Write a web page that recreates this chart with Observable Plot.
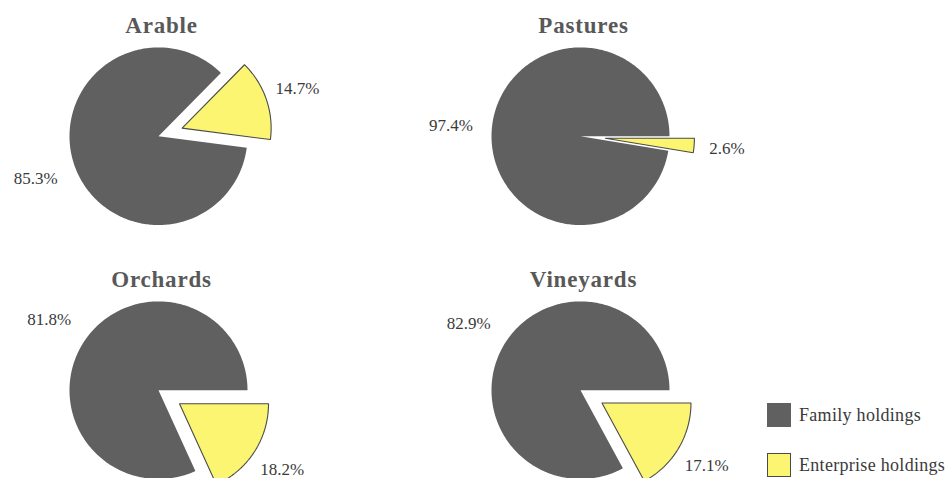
<!DOCTYPE html>
<html>
<head>
<meta charset="utf-8">
<script src="https://cdn.jsdelivr.net/npm/d3@7"></script>
<script src="https://cdn.jsdelivr.net/npm/@observablehq/plot@0.6"></script>
<style>
  html, body { margin: 0; padding: 0; background: #fff; overflow: hidden; }
  #chart { position: relative; width: 950px; height: 478px; overflow: hidden; }
  #chart svg { display: block; }
  .key { position: absolute; left: 767px; height: 24px; display: flex; align-items: center;
         font-family: "Liberation Serif", "Times New Roman", serif; font-size: 18px;
         line-height: 24px; color: #3a3a3a; white-space: nowrap; letter-spacing: 0.3px; }
  .key .sw { width: 24px; height: 24px; box-sizing: border-box; margin-right: 8px; flex: none; }
</style>
</head>
<body>
<div id="chart"></div>
<script>
// Share of land by type of holding, per land use (percent)
const categories = ["Arable", "Pastures", "Orchards", "Vineyards"];
const holdings = ["Family holdings", "Enterprise holdings"];
const familyShare = [85.3, 97.4, 81.8, 82.9];
const enterpriseShare = [14.7, 2.6, 18.2, 17.1];

// Styling and layout
const colors = ["#606060", "#fbf572"];
const outline = "#4a4a4a";
const enterpriseStartDeg = [44.5, 90, 90, 90]; // clockwise from 12 o'clock
const R = 89;            // pie radius (px)
const explode = 25;      // offset of the enterprise slice (px)
const labelRadius = {"Family holdings": 130, "Enterprise holdings": 147};
const cellW = 422, cellH = 254.5;   // facet cell size
const cx = 158, cy = 135;           // pie centre inside a cell
const titleLift = 103;
const titleSpacing = "0.8px";
const legendTops = [403, 453];

const rad = d => d * Math.PI / 180;
const pt = (a, r) => [r * Math.sin(a), r * Math.cos(a)];

const slicePoints = [];
const labels = [];
const titles = [];

categories.forEach((cat, i) => {
  const col = i % 2, row = Math.floor(i / 2);
  titles.push({cat, col, row});
  const values = [
    {holding: holdings[1], value: enterpriseShare[i]},
    {holding: holdings[0], value: familyShare[i]}
  ];
  const start = rad(enterpriseStartDeg[i]);
  const arcs = d3.pie().sort(null).value(d => d.value)
    .startAngle(start).endAngle(start + 2 * Math.PI)(values);
  arcs.forEach(a => {
    const h = a.data.holding;
    const mid = (a.startAngle + a.endAngle) / 2;
    const off = h === holdings[1] ? explode : 0;
    const [ox, oy] = pt(mid, off);
    const key = cat + "|" + h;
    const n = Math.max(2, Math.ceil((a.endAngle - a.startAngle) / rad(1)));
    slicePoints.push({key, holding: h, col, row, x: ox, y: oy});
    for (let k = 0; k <= n; ++k) {
      const t = a.startAngle + (a.endAngle - a.startAngle) * k / n;
      const [px, py] = pt(t, R);
      slicePoints.push({key, holding: h, col, row, x: ox + px, y: oy + py});
    }
    slicePoints.push({key, holding: h, col, row, x: ox, y: oy});
    const [lx, ly] = pt(mid, labelRadius[h]);
    labels.push({col, row, x: lx, y: ly, text: d3.format(".1f")(a.data.value) + "%"});
  });
});

const serif = "'Liberation Serif', 'Times New Roman', serif";

const chart = Plot.plot({
  width: 950,
  height: 2 * cellH,
  marginLeft: 0,
  marginRight: 950 - 2 * cellW,
  marginTop: 0,
  marginBottom: 0,
  style: {fontFamily: serif, background: "#fff"},
  fx: {domain: [0, 1], padding: 0, axis: null},
  fy: {domain: [0, 1], padding: 0, axis: null},
  x: {domain: [-cx, cellW - cx], axis: null},
  y: {domain: [-(cellH - cy), cy], axis: null},
  color: {domain: holdings, range: colors},
  marks: [
    Plot.line(slicePoints.filter(d => d.holding === holdings[0]), {
      x: "x", y: "y", z: "key", fx: "col", fy: "row",
      fill: "holding", stroke: "none", curve: "linear"
    }),
    Plot.line(slicePoints.filter(d => d.holding === holdings[1]), {
      x: "x", y: "y", z: "key", fx: "col", fy: "row",
      fill: "holding", stroke: outline, strokeWidth: 1.1, strokeLinejoin: "miter", curve: "linear"
    }),
    Plot.text(titles, {
      x: () => 3, y: () => titleLift, fx: "col", fy: "row", text: "cat",
      lineAnchor: "bottom", fontSize: 23, fontWeight: "bold", fill: "#585858"
    }),
    Plot.text(labels, {
      x: "x", y: "y", fx: "col", fy: "row", text: "text",
      fontSize: 17, fill: "#3a3a3a"
    })
  ]
});

// Spread the letters of the pie titles slightly
d3.select(chart).selectAll("text")
  .filter(function () { return categories.includes(this.textContent); })
  .style("letter-spacing", titleSpacing);

const host = document.getElementById("chart");
host.appendChild(chart);

// Key
holdings.forEach((h, i) => {
  const row = document.createElement("div");
  row.className = "key";
  row.style.top = legendTops[i] + "px";
  const sw = document.createElement("span");
  sw.className = "sw";
  sw.style.background = colors[i];
  sw.style.border = i === 1 ? `1.5px solid ${outline}` : "none";
  row.appendChild(sw);
  row.appendChild(document.createTextNode(h));
  host.appendChild(row);
});
</script>
</body>
</html>
